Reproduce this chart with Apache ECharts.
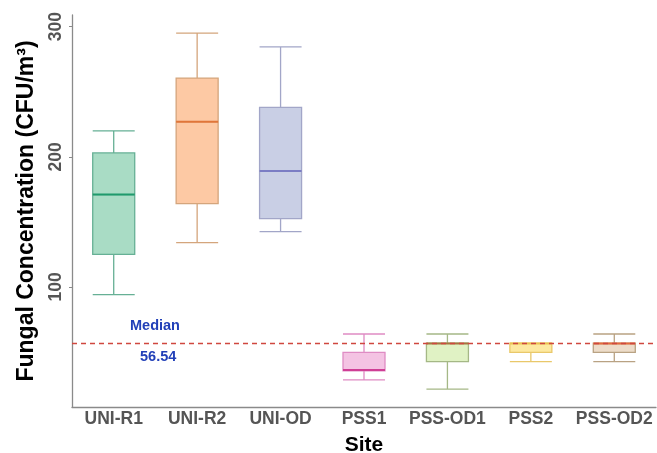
<!DOCTYPE html>
<html>
<head>
<meta charset="utf-8">
<script src="https://cdn.jsdelivr.net/npm/echarts@6/dist/echarts.min.js"></script>
<style>
  html, body { margin: 0; padding: 0; background: #fff; }
  #chart { width: 657px; height: 453px; }
</style>
</head>
<body>
<div id="chart"></div>
<script>
"use strict";

const sites = ["UNI-R1", "UNI-R2", "UNI-OD", "PSS1", "PSS-OD1", "PSS2", "PSS-OD2"];
// [min, Q1, median, Q3, max]
const boxValues = [
  [94, 125, 171, 203, 220],
  [134, 164, 227, 260.5, 295],
  [142.5, 152.5, 189, 238, 284.5],
  [28.5, 35.4, 36.1, 49.7, 63.8],
  [21.5, 42.6, 56.6, 56.8, 63.8],
  [42.6, 49.7, 56.6, 56.8, 56.8],
  [42.6, 49.7, 56.5, 56.8, 63.8]
];
const overallMedian = 56.54;
const yTicks = [100, 200, 300];

const fillColors = ["#a9dcc5", "#fdc9a4", "#c9cfe5", "#f4c3e3", "#e0f2c4", "#fde9a0", "#eddcc9"];
const borderColors = ["#66b095", "#d4a57c", "#a2a6c8", "#df8cc4", "#a5b886", "#e9c86a", "#b9a283"];
const medianColors = ["#1f9a6c", "#e0763a", "#7b7dc4", "#cf3e95", "#a5763f", "#e9c350", "#e46a3c"];

const chart = echarts.init(document.getElementById("chart"), null, { renderer: "canvas" });

chart.setOption({
  animation: false,
  backgroundColor: "#fff",
  grid: { left: 72, right: 1, top: 15, bottom: 46, containLabel: false, outerBoundsMode: "none" },
  xAxis: {
    type: "category",
    data: sites,
    name: "Site",
    nameLocation: "middle",
    nameGap: 28,
    nameTextStyle: { fontFamily: "Liberation Sans", fontWeight: "bold", fontSize: 21, color: "#000" },
    axisLine: { lineStyle: { color: "#8a8a8a", width: 1.3 } },
    axisTick: { alignWithLabel: true, length: 3, lineStyle: { color: "#8a8a8a" } },
    axisLabel: {
      interval: 0, hideOverlap: false, margin: 3,
      fontFamily: "Liberation Sans", fontWeight: "bold", fontSize: 17.5, color: "#555"
    },
    splitLine: { show: false }
  },
  yAxis: {
    type: "value",
    min: 7.7,
    max: 309,
    name: "Fungal Concentration (CFU/m\u00b3)",
    nameLocation: "middle",
    nameGap: 34,
    nameTextStyle: { fontFamily: "Liberation Sans", fontWeight: "bold", fontSize: 23, color: "#000" },
    axisLine: { show: true, lineStyle: { color: "#8a8a8a", width: 1.3 } },
    axisTick: { show: true, length: 3, customValues: yTicks, lineStyle: { color: "#8a8a8a" } },
    axisLabel: {
      rotate: 90, customValues: yTicks, margin: 7,
      fontFamily: "Liberation Sans", fontWeight: "bold", fontSize: 17.5, color: "#555"
    },
    splitLine: { show: false }
  },
  series: [
    {
      type: "boxplot",
      boxWidth: [42, 42],
      data: boxValues.map((v, i) => ({
        value: v,
        itemStyle: { color: fillColors[i], borderColor: borderColors[i], borderWidth: 1.3 }
      }))
    },
    {
      type: "custom",
      z: 5,
      data: boxValues.map((v, i) => [i, v[2]]),
      renderItem: (params, api) => {
        const p = api.coord([api.value(0), api.value(1)]);
        const half = 21;
        return {
          type: "line",
          shape: { x1: p[0] - half, y1: p[1], x2: p[0] + half, y2: p[1] },
          style: { stroke: medianColors[params.dataIndex], lineWidth: 2 }
        };
      },
      markLine: {
        silent: true,
        symbol: "none",
        z: 10,
        label: { show: false },
        emphasis: { disabled: true },
        lineStyle: { type: [5, 4], color: "#d0473f", width: 1.3, opacity: 1 },
        data: [{ yAxis: overallMedian }]
      }
    }
  ],
  graphic: [
    {
      type: "text", left: 130, top: 318,
      style: { text: "Median", fontFamily: "Liberation Sans", fontWeight: "bold", fontSize: 14.5, fill: "#2240b8" }
    },
    {
      type: "text", left: 140, top: 349,
      style: { text: String(overallMedian), fontFamily: "Liberation Sans", fontWeight: "bold", fontSize: 14.5, fill: "#2240b8" }
    }
  ]
});
</script>
</body>
</html>
